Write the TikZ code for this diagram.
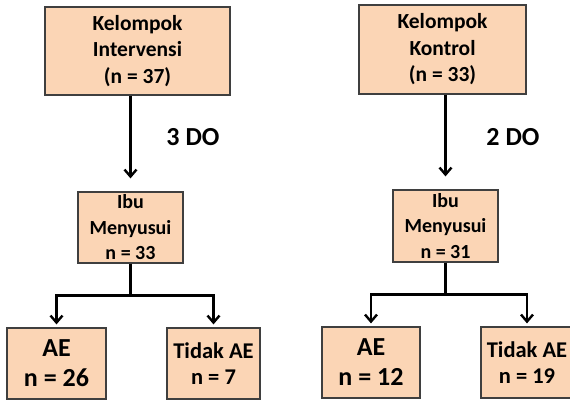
\documentclass[tikz,border=0pt]{standalone}
\usepackage{fontspec}
\setmainfont{Carlito}
\usetikzlibrary{arrows.meta}
\definecolor{peach}{HTML}{FBD5B5}
\definecolor{rim}{HTML}{3F3F3F}

\begin{document}
\begin{tikzpicture}[x=1pt,y=-1pt,
  box/.style={draw=rim,fill=peach,line width=1.2pt,inner sep=0pt,align=center,
    font=\bfseries\fontsize{21.5}{26.5}\selectfont},
  ibu/.style={font=\bfseries\fontsize{20}{25.5}\selectfont},
  big/.style={font=\bfseries\fontsize{26}{30}\selectfont},
  mid/.style={font=\bfseries\fontsize{22.5}{26}\selectfont},
  flow/.style={line width=2.4pt,-{Straight Barb[length=7pt,width=12pt]}}]
\useasboundingbox (0,0) rectangle (570,401);
% kelompok intervensi
\node[box,minimum width=185pt,minimum height=88pt] (kelI) at (137.5,51) {Kelompok\\Intervensi\\(n = 37)};
\node[box,ibu,minimum width=105pt,minimum height=71pt] (ibuI) at (130.5,227.5) {Ibu\\Menyusui\\n = 33};
\node[box,big,minimum width=99pt,minimum height=71pt] (aeI) at (56.5,363.5) {AE\\n = 26};
\node[box,mid,minimum width=93pt,minimum height=71pt] (tdkI) at (213.5,363.5) {Tidak AE\\n = 7};
\node[big] (doI) at (193,137) {\bfseries 3 DO};
% kelompok kontrol
\node[box,minimum width=167pt,minimum height=89pt] (kelK) at (442.5,49.5) {Kelompok\\Kontrol\\(n = 33)};
\node[box,ibu,minimum width=105pt,minimum height=72pt] (ibuK) at (445.5,226) {Ibu\\Menyusui\\n = 31};
\node[box,big,minimum width=98pt,minimum height=71pt] (aeK) at (371,362.5) {AE\\n = 12};
\node[box,mid,minimum width=92pt,minimum height=71pt] (tdkK) at (527,362.5) {Tidak AE\\n = 19};
\node[big] (doK) at (513,137) {\bfseries 2 DO};
% arrows
\draw[flow,shorten >=13pt] (ibuI |- kelI.south) -- (ibuI.north);
\draw[flow,shorten >=13pt] (ibuK |- kelK.south) -- (ibuK.north);
\draw[flow,shorten >=3pt] (ibuI.south) -- ++(0,32) -| (aeI.north);
\draw[flow,shorten >=3pt] (ibuI.south) -- ++(0,32) -| (tdkI.north);
\draw[flow,shorten >=3pt] (ibuK.south) -- ++(0,32) -| (aeK.north);
\draw[flow,shorten >=3pt] (ibuK.south) -- ++(0,32) -| (tdkK.north);
\end{tikzpicture}
\end{document}
